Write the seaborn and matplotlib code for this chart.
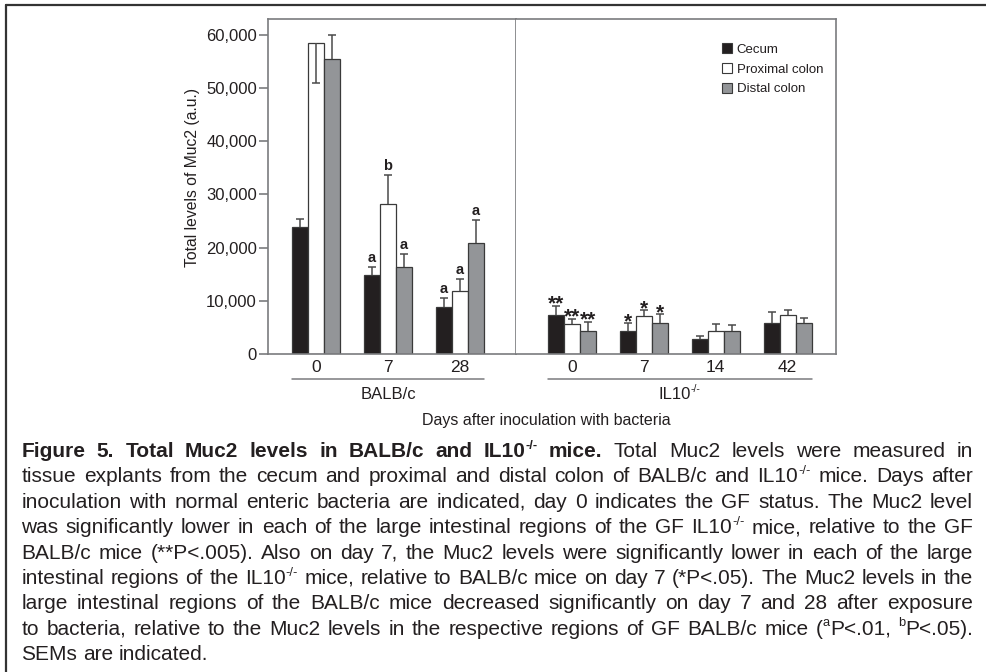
import re
import matplotlib
matplotlib.use("Agg")
import matplotlib.pyplot as plt
import matplotlib.transforms as mtransforms
from matplotlib.lines import Line2D
from matplotlib.patches import Patch
import seaborn as sns
import pandas as pd

# ---------------- data ----------------
tissues = ["Cecum", "Proximal colon", "Distal colon"]
balb_days = ["0", "7", "28"]
il10_days = ["0", "7", "14", "42"]

balb_cecum = [23800, 14800, 8800]
balb_proximal = [58400, 28300, 11800]
balb_distal = [55400, 16400, 20800]
balb_cecum_sem = [1500, 1500, 1750]
balb_proximal_sem = [-7400, 5450, 2370]
balb_distal_sem = [4570, 2390, 4330]

il10_cecum = [7300, 4300, 2760, 5770]
il10_proximal = [5700, 7200, 4330, 7280]
il10_distal = [4330, 5770, 4330, 5770]
il10_cecum_sem = [1690, 1450, 680, 2220]
il10_proximal_sem = [940, 1020, 1320, 1050]
il10_distal_sem = [1690, 1690, 1190, 940]

balb_marks_cecum = ["", "a", "a"]
balb_marks_proximal = ["", "b", "a"]
balb_marks_distal = ["", "a", "a"]
il10_marks_cecum = ["**", "*", "", ""]
il10_marks_proximal = ["**", "*", "", ""]
il10_marks_distal = ["**", "*", "", ""]

y_ticks = [0, 10000, 20000, 30000, 40000, 50000, 60000]
group_labels = ["BALB/c", "IL10^{-/-}"]
x_label = "Days after inoculation with bacteria"
y_label = "Total levels of Muc2 (a.u.)"

caption_bold = "Figure 5. Total Muc2 levels in BALB/c and IL10^{-/-} mice."
caption_lines = [
    "Total Muc2 levels were measured in",
    "tissue explants from the cecum and proximal and distal colon of BALB/c and IL10^{-/-} mice. Days after",
    "inoculation with normal enteric bacteria are indicated, day 0 indicates the GF status. The Muc2 level",
    "was significantly lower in each of the large intestinal regions of the GF IL10^{-/-} mice, relative to the GF",
    "BALB/c mice (**P<.005). Also on day 7, the Muc2 levels were significantly lower in each of the large",
    "intestinal regions of the IL10^{-/-} mice, relative to BALB/c mice on day 7 (*P<.05). The Muc2 levels in the",
    "large intestinal regions of the BALB/c mice decreased significantly on day 7 and 28 after exposure",
    "to bacteria, relative to the Muc2 levels in the respective regions of GF BALB/c mice (^{a}P<.01, ^{b}P<.05).",
    "SEMs are indicated.",
]

# ---------------- style ----------------
sns.set_style("white")
plt.rcParams["font.family"] = ["Liberation Sans", "DejaVu Sans"]

TEXT = "#231f20"
SPINE = "#7a7b7e"
EDGE = "#3a3a3a"
ERR = "#4a4a4a"
palette = {"Cecum": "#231f20", "Proximal colon": "#ffffff", "Distal colon": "#939598"}

W, H = 986, 672
fig = plt.figure(figsize=(W / 100, H / 100), dpi=100)
fig.patch.set_facecolor("white")
renderer = fig.canvas.get_renderer()
ident = mtransforms.IdentityTransform()


def px_axes(x0, y0, x1, y1):
    return fig.add_axes([x0 / W, 1 - y1 / H, (x1 - x0) / W, (y1 - y0) / H])


def split_sup(word):
    parts = re.split(r"\^\{([^}]*)\}", word)
    return [(p, i % 2 == 1) for i, p in enumerate(parts) if p]


def make_word(word, fs, weight):
    """Create text pieces (normal + superscript) for one word; return pieces and width."""
    pieces = []
    total = 0.0
    for txt, sup in split_sup(word):
        size = fs * 0.62 if sup else fs
        t = fig.text(0, 0, txt, transform=ident, fontsize=size, fontweight=weight,
                     ha="left", va="baseline", color=TEXT)
        w = t.get_window_extent(renderer).width
        pieces.append((t, w, sup))
        total += w
    return pieces, total


def place_word(pieces, x, y, fs):
    rise = 0.40 * fs * 100 / 72
    for t, w, sup in pieces:
        t.set_position((x, y + (rise if sup else 0)))
        x += w


ax1 = px_axes(268, 19, 516, 354)
ax2 = px_axes(516, 19, 836, 354)


def panel_df(days, series):
    rows = []
    for t, vals in zip(tissues, series):
        for d, v in zip(days, vals):
            rows.append({"day": d, "tissue": t, "value": v})
    return pd.DataFrame(rows)


panels = [
    (ax1, balb_days, [balb_cecum, balb_proximal, balb_distal],
     [balb_cecum_sem, balb_proximal_sem, balb_distal_sem],
     [balb_marks_cecum, balb_marks_proximal, balb_marks_distal], (-0.667, 2.778)),
    (ax2, il10_days, [il10_cecum, il10_proximal, il10_distal],
     [il10_cecum_sem, il10_proximal_sem, il10_distal_sem],
     [il10_marks_cecum, il10_marks_proximal, il10_marks_distal], (-0.774, 3.671)),
]

cap_half = 0.056
for k, (ax, days, series, sems, marks, xlim) in enumerate(panels):
    df = panel_df(days, series)
    sns.barplot(data=df, x="day", y="value", hue="tissue", order=days,
                hue_order=tissues, palette=palette, width=0.667, saturation=1,
                errorbar=None, edgecolor=EDGE, linewidth=0.9, legend=False, ax=ax,
                zorder=2)
    ax.set_xlim(*xlim)
    ax.set_ylim(0, 63000)
    ax.set_xlabel("")
    ax.set_ylabel("")

    lefts, rights = [], []
    for cont, sem_list, mark_list in zip(ax.containers, sems, marks):
        for bar, e, m in zip(cont.patches, sem_list, mark_list):
            xc = bar.get_x() + bar.get_width() / 2
            v = bar.get_height()
            lefts.append(bar.get_x())
            rights.append(bar.get_x() + bar.get_width())
            end = v + e
            ax.plot([xc, xc], [v, end], color=ERR, lw=1.1, zorder=3, solid_capstyle="butt")
            ax.plot([xc - cap_half, xc + cap_half], [end, end], color=ERR, lw=1.1, zorder=3,
                    solid_capstyle="butt")
            top = max(v, end)
            if m:
                if "*" in m:
                    ax.annotate(m, xy=(xc, top), xytext=(0, -2.6), textcoords="offset points",
                                ha="center", va="baseline", fontsize=15, fontweight="bold",
                                color=TEXT, zorder=4)
                else:
                    ax.annotate(m, xy=(xc, top), xytext=(0, 3.6), textcoords="offset points",
                                ha="center", va="baseline", fontsize=10.5, fontweight="bold",
                                color=TEXT, zorder=4)

    # group underline
    tr = ax.get_xaxis_transform()
    ax.plot([min(lefts), max(rights)], [-0.0746, -0.0746], transform=tr, clip_on=False,
            color=SPINE, lw=1.1)
    # group label (with optional superscript), centred under the groups
    xc_disp = ax.transData.transform(((len(days) - 1) / 2, 0))[0]
    pieces, tw = make_word(group_labels[k], 12, "normal")
    place_word(pieces, xc_disp - tw / 2, H - 399, 12)

    for s in ax.spines.values():
        s.set_color(SPINE)
        s.set_linewidth(1.2)
        s.set_visible(True)
    ax.tick_params(axis="x", length=0, pad=4, labelsize=12.5, labelcolor=TEXT)

ax1.set_yticks(y_ticks)
ax1.set_yticklabels([f"{v:,}" for v in y_ticks])
ax1.tick_params(axis="y", direction="out", length=6.5, width=1.2, color=SPINE, pad=1.5,
                labelsize=12, labelcolor=TEXT, left=True)
ax2.spines["left"].set_visible(False)
ax2.tick_params(axis="y", left=False, labelleft=False)
ax2.set_yticks(y_ticks)

# y label and x label
fig.text(193 / W, 1 - 177 / H, y_label, rotation=90, ha="center", va="center",
         fontsize=11.3, color=TEXT)
fig.text(546 / W, 1 - 421 / H, x_label, ha="center", va="center", fontsize=11.5, color=TEXT)

# legend
handles = [Patch(facecolor=palette[t], edgecolor=EDGE, linewidth=0.8) for t in tissues]
fig.legend(handles, tissues, loc="upper left", bbox_to_anchor=(721.5 / W, 1 - 43.0 / H),
           frameon=False, fontsize=9.5, handlelength=0.8, handleheight=0.8,
           handletextpad=0.35, labelspacing=0.55, borderpad=0, borderaxespad=0,
           labelcolor=TEXT)

# outer frame lines
fig.add_artist(Line2D([6 / W, 1], [1 - 4.7 / H, 1 - 4.7 / H], transform=fig.transFigure,
                      color="#333333", lw=1.6))
fig.add_artist(Line2D([6 / W, 6 / W], [0, 1 - 4.7 / H], transform=fig.transFigure,
                      color="#333333", lw=1.6))

# caption, justified
cap_x0, cap_x1 = 21.5, 973.0
cap_y0, cap_dy = 457.0, 25.4


def caption_words(i, line):
    words = []
    if i == 0:
        words += [(w, "bold") for w in caption_bold.split(" ")]
    words += [(w, "normal") for w in line.split(" ")]
    return words


# font size (max 15 pt) such that every justified line keeps a minimal gap
base_fs = 15.0
worst = 1.0
for i, line in enumerate(caption_lines[:-1]):
    words = caption_words(i, line)
    tot = 0.0
    for w, wt in words:
        pieces, tw = make_word(w, base_fs, wt)
        tot += tw
        for t, _, _ in pieces:
            t.remove()
    avail = (cap_x1 - cap_x0) - (len(words) - 1) * 3.5
    worst = min(worst, avail / tot)
cap_fs = base_fs * worst
space_px = 0.278 * cap_fs * 100 / 72

for i, line in enumerate(caption_lines):
    words = caption_words(i, line)
    y_disp = H - (cap_y0 + i * cap_dy)
    built = [make_word(w, cap_fs, wt) for w, wt in words]
    widths = [b[1] for b in built]
    justify = i < len(caption_lines) - 1
    gap = (cap_x1 - cap_x0 - sum(widths)) / (len(built) - 1) if justify else space_px
    x = cap_x0
    for (pieces, wd) in built:
        place_word(pieces, x, y_disp, cap_fs)
        x += wd + gap

fig.savefig("out.png", dpi=100, facecolor="white")
